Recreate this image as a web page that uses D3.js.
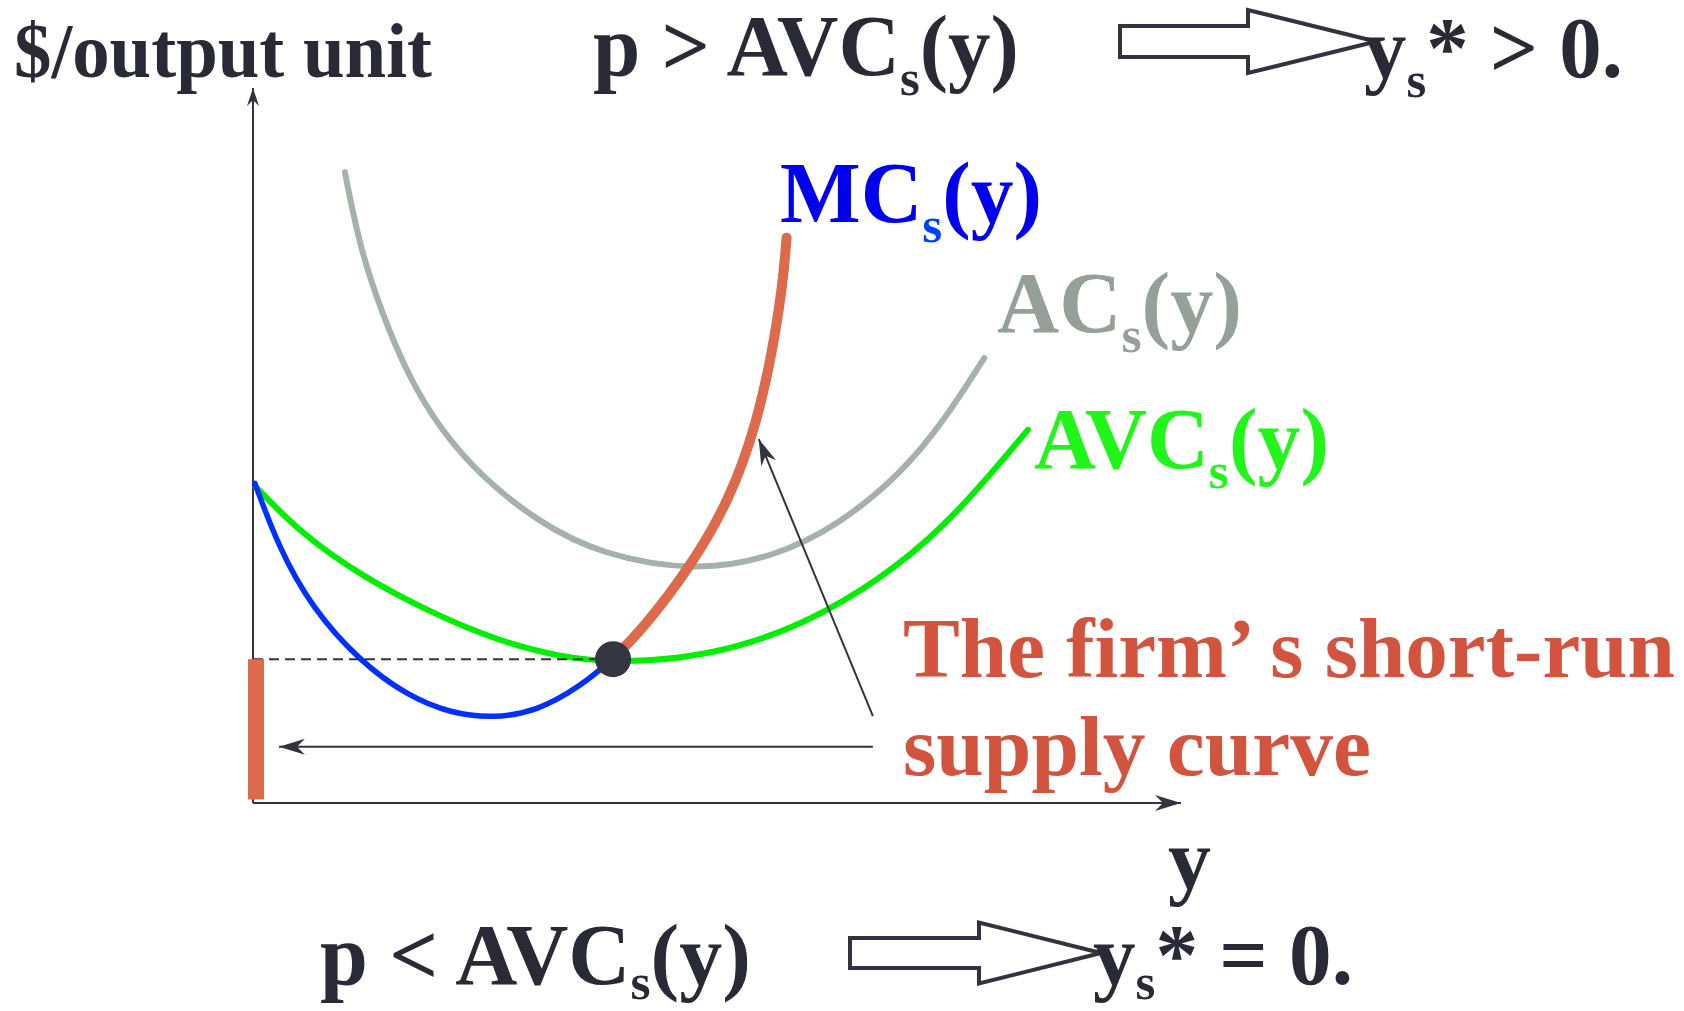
<!DOCTYPE html>
<html>
<head>
<meta charset="utf-8">
<script src="https://cdn.jsdelivr.net/npm/d3@7"></script>
<style>
  html, body { margin: 0; padding: 0; background: #fff; }
  svg { display: block; }
</style>
</head>
<body>
<svg id="chart" width="1684" height="1011"></svg>
<script>
// Short-run cost curves: output y against $ per output unit
const acQty   = [0.99, 1.15, 1.38, 1.67, 2.02, 2.48, 3.06, 3.75, 4.80, 5.60, 6.30, 6.99, 7.46, 7.88];
const acCost  = [8.86, 7.81, 6.91, 6.00, 5.24, 4.56, 3.96, 3.48, 3.25, 3.45, 3.89, 4.63, 5.39, 6.25];

const avcQty  = [0.03, 0.52, 1.19, 1.91, 2.63, 3.34, 3.88, 4.60, 5.38, 6.19, 6.94, 7.59, 8.35];
const avcCost = [4.44, 3.78, 3.17, 2.68, 2.28, 2.04, 1.98, 2.02, 2.23, 2.68, 3.31, 4.06, 5.24];

const mcQty   = [0.02, 0.28, 0.63, 1.15, 1.67, 2.13, 2.59, 3.06, 3.52, 3.88, 4.21, 4.71, 5.14, 5.43, 5.60, 5.71, 5.75];
const mcCost  = [4.49, 3.58, 2.75, 1.99, 1.50, 1.26, 1.19, 1.29, 1.63, 2.02, 2.46, 3.31, 4.26, 5.34, 6.36, 7.30, 7.94];

// Shutdown point: minimum of AVC, where MC crosses it
const shutdownQty = 3.88;
const shutdownPrice = 2.02;

// Text
const axisTitleY = "$/output unit";
const axisTitleX = "y";
const curveNames = { mc: "MC", ac: "AC", avc: "AVC" };
const supplyNote = ["The firm\u2019 s short-run", "supply curve"];

const svg = d3.select("#chart");
const W = 1684, H = 1011;

const x = d3.scaleLinear().domain([0, 10]).range([253, 1181]);
const y = d3.scaleLinear().domain([0, 10]).range([803, 91]);

const dark = "#33333f";
const textDark = "#2a2a36";
const serif = "'Liberation Serif', 'Times New Roman', serif";

const zip = (qs, cs) => qs.map((q, i) => ({ q, c: cs[i] }));
const line = d3.line().x(d => x(d.q)).y(d => y(d.c)).curve(d3.curveBasis);

const defs = svg.append("defs");

// Arrow markers
function marker(id, len, half, notch) {
  defs.append("marker")
    .attr("id", id)
    .attr("viewBox", `${-len - 2} ${-half - 2} ${len + 4} ${2 * half + 4}`)
    .attr("markerUnits", "userSpaceOnUse")
    .attr("markerWidth", len + 4)
    .attr("markerHeight", 2 * half + 4)
    .attr("refX", 0).attr("refY", 0)
    .attr("orient", "auto")
    .append("path")
    .attr("d", `M0,0 L${-len},${-half} L${-notch},0 L${-len},${half} Z`)
    .attr("fill", dark);
}
marker("headSmall", 18, 6, 12);
marker("headBig", 26, 8, 18);

// Clips splitting MC at the shutdown quantity
defs.append("clipPath").attr("id", "belowShutdown")
  .append("rect").attr("x", 0).attr("y", 0).attr("width", x(shutdownQty)).attr("height", H);
defs.append("clipPath").attr("id", "aboveShutdown")
  .append("rect").attr("x", x(shutdownQty)).attr("y", 0).attr("width", W - x(shutdownQty)).attr("height", H);

// Axes
svg.append("line")
  .attr("x1", x(0)).attr("y1", y(0))
  .attr("x2", x(0)).attr("y2", y(10) - 3)
  .attr("stroke", dark).attr("stroke-width", 2)
  .attr("marker-end", "url(#headSmall)");
svg.append("line")
  .attr("x1", x(0)).attr("y1", y(0))
  .attr("x2", x(10)).attr("y2", y(0))
  .attr("stroke", dark).attr("stroke-width", 2)
  .attr("marker-end", "url(#headBig)");

// AC curve
svg.append("path")
  .attr("d", line(zip(acQty, acCost)))
  .attr("fill", "none").attr("stroke", "#a6b1aa").attr("stroke-width", 6)
  .attr("stroke-linecap", "round");

// AVC curve
svg.append("path")
  .attr("d", line(zip(avcQty, avcCost)))
  .attr("fill", "none").attr("stroke", "#00ee00").attr("stroke-width", 6)
  .attr("stroke-linecap", "round");

// MC below the shutdown point
const mcPath = line(zip(mcQty, mcCost));
svg.append("path")
  .attr("d", mcPath)
  .attr("clip-path", "url(#belowShutdown)")
  .attr("fill", "none").attr("stroke", "#0030ff").attr("stroke-width", 5.5)
  .attr("stroke-linecap", "round");

// Dashed guide at the shutdown price
svg.append("line")
  .attr("x1", x(0)).attr("x2", x(shutdownQty))
  .attr("y1", y(shutdownPrice)).attr("y2", y(shutdownPrice))
  .attr("stroke", dark).attr("stroke-width", 2)
  .attr("stroke-dasharray", "10,6");

// Supply curve: MC above the shutdown point ...
const supplyColor = "#dc6a4b";
svg.append("path")
  .attr("d", mcPath)
  .attr("clip-path", "url(#aboveShutdown)")
  .attr("fill", "none").attr("stroke", supplyColor).attr("stroke-width", 10)
  .attr("stroke-linecap", "round");

// ... and zero output for prices below it
svg.append("rect")
  .attr("x", x(0) - 5).attr("width", 16)
  .attr("y", y(shutdownPrice)).attr("height", y(0.05) - y(shutdownPrice))
  .attr("fill", supplyColor);

// Shutdown point
svg.append("circle")
  .attr("cx", x(shutdownQty)).attr("cy", y(shutdownPrice))
  .attr("r", 18).attr("fill", "#353540");

// Pointers from the note to the two supply pieces
svg.append("line")
  .attr("x1", x(6.68)).attr("y1", y(0.79))
  .attr("x2", x(0.28)).attr("y2", y(0.79))
  .attr("stroke", dark).attr("stroke-width", 2)
  .attr("marker-end", "url(#headBig)");
svg.append("line")
  .attr("x1", x(6.68)).attr("y1", y(1.22))
  .attr("x2", x(5.45)).attr("y2", y(5.11))
  .attr("stroke", dark).attr("stroke-width", 2)
  .attr("marker-end", "url(#headBig)");

// Hollow implication arrows
function blockArrow(x0, xHead, xTip, cy, shaftHalf, headHalf) {
  const pts = [
    [x0, cy - shaftHalf], [xHead, cy - shaftHalf], [xHead, cy - headHalf],
    [xTip, cy], [xHead, cy + headHalf], [xHead, cy + shaftHalf], [x0, cy + shaftHalf]
  ];
  svg.append("polygon")
    .attr("points", pts.map(p => p.join(",")).join(" "))
    .attr("fill", "#fff").attr("stroke", dark).attr("stroke-width", 4)
    .attr("stroke-linejoin", "miter");
}
blockArrow(1120, 1248, 1376, 41.5, 15.5, 31.5);
blockArrow(850, 979, 1101, 953, 15, 30.5);

// Text labels, each stretched to its box width
function label(parts, opt) {
  const drop = opt.drop || 20;
  const t = svg.append("text")
    .attr("font-family", serif).attr("font-weight", "bold")
    .attr("font-size", opt.size).attr("fill", opt.color || textDark);
  let shifted = 0;
  parts.forEach(([str, kind]) => {
    const s = t.append("tspan").text(str);
    if (kind === "sub") {
      s.attr("font-size", opt.size * 0.6).attr("dy", drop - shifted);
      shifted = drop;
      if (opt.subColor) s.attr("fill", opt.subColor);
    } else if (shifted) {
      s.attr("dy", -shifted);
      shifted = 0;
    }
  });
  const bw = t.node().getBBox().width;
  const k = opt.w ? opt.w / bw : 1;
  t.attr("transform", `translate(${opt.x},${opt.y}) scale(${k},1)`);
}

label([[axisTitleY]], { x: 14, y: 77, size: 78, w: 418 });
label([["p > AVC"], ["s", "sub"], ["(y)"]], { x: 593, y: 75, size: 86, w: 426 });
label([["y"], ["s", "sub"], ["* > 0."]], { x: 1364, y: 77, size: 86, w: 259 });

label([[curveNames.mc], ["s", "sub"], ["(y)"]], { x: 780, y: 222, size: 86, w: 262, color: "#0000ee", subColor: "#0040ff" });
label([[curveNames.ac], ["s", "sub"], ["(y)"]], { x: 997, y: 332, size: 86, w: 245, color: "#95a098" });
label([[curveNames.avc], ["s", "sub"], ["(y)"]], { x: 1034, y: 468, size: 86, w: 295, color: "#22f51a" });

label([[supplyNote[0]]], { x: 903, y: 677, size: 84, w: 772, color: "#d2543e" });
label([[supplyNote[1]]], { x: 903, y: 775, size: 84, w: 468, color: "#d2543e" });

label([[axisTitleX]], { x: 1168, y: 888, size: 86, w: 43 });

label([["p < AVC"], ["s", "sub"], ["(y)"]], { x: 320, y: 984, size: 86, w: 431, drop: 15 });
label([["y"], ["s", "sub"], ["* = 0."]], { x: 1093, y: 984, size: 86, w: 260, drop: 15 });
</script>
</body>
</html>
